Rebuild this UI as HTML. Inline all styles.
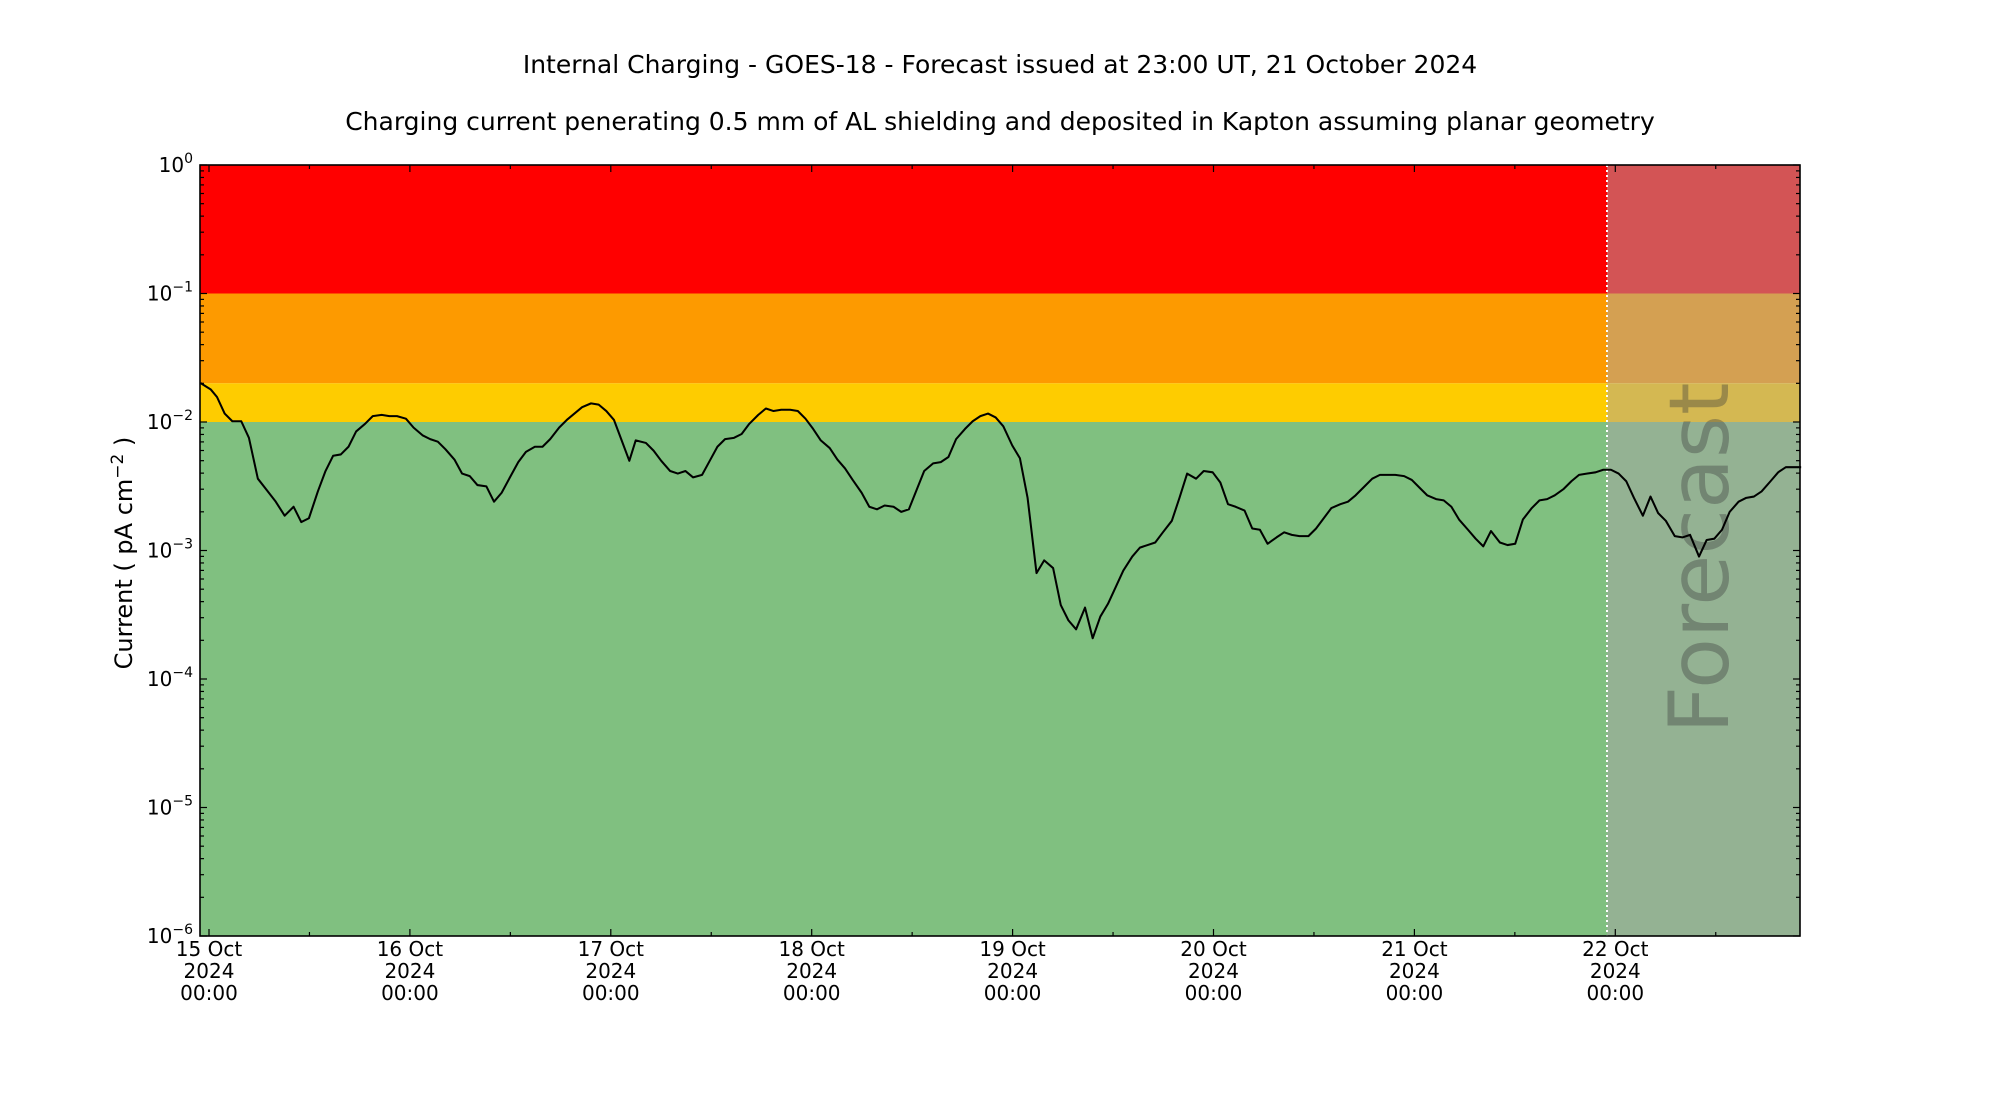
<!DOCTYPE html>
<html><head><meta charset="utf-8"><style>
html,body{margin:0;padding:0;background:#fff;}
svg{display:block;font-family:"DejaVu Sans","Liberation Sans",sans-serif;}
</style></head><body>
<svg width="2000" height="1100" viewBox="0 0 2000 1100" xmlns="http://www.w3.org/2000/svg">
<rect width="2000" height="1100" fill="#fff"/>
<text x="1000" y="73" font-size="25" text-anchor="middle">Internal Charging - GOES-18 - Forecast issued at 23:00 UT, 21 October 2024</text>
<text x="1000" y="130" font-size="25" text-anchor="middle">Charging current penerating 0.5 mm of AL shielding and deposited in Kapton assuming planar geometry</text>
<rect x="200" y="165" width="1407" height="128.5" fill="#ff0000"/>
<rect x="200" y="293.5" width="1407" height="89.8" fill="#fd9a00"/>
<rect x="200" y="383.3" width="1407" height="38.7" fill="#fecc00"/>
<rect x="200" y="422" width="1407" height="514" fill="#80c080"/>
<rect x="1607" y="165" width="193" height="128.5" fill="#d35455"/>
<rect x="1607" y="293.5" width="193" height="89.8" fill="#d4a052"/>
<rect x="1607" y="383.3" width="193" height="38.7" fill="#d4b852"/>
<rect x="1607" y="422" width="193" height="514" fill="#94b293"/>
<line x1="1607" y1="165" x2="1607" y2="936" stroke="#fff" stroke-width="2" stroke-dasharray="2,3"/>
<text transform="translate(1728,558) rotate(-90)" font-size="83" text-anchor="middle" fill="rgba(60,60,60,0.38)">Forecast</text>
<g transform="scale(1.2765)">
<polyline fill="none" stroke="#000" stroke-width="1.6" stroke-linejoin="round" points="157,300 165,305 170,311 176,324 182,330 189,330 195,343 202,375 209,384 216,393 223,404 230,397 236,409 242,406 249,385 255,369 261,357 267,356 273,350 279,338 286,332 292,326 299,325 305,326 311,326 318,328 324,335 331,341 337,344 343,346 349,352 356,360 362,371 368,373 374,380 381,381 387,393 393,386 400,373 406,362 412,354 419,350 425,350 431,344 438,335 444,329 450,324 456,319 463,316 469,317 475,322 481,329 487,345 493,361 498,345 506,347 512,353 518,361 525,369 531,371 537,369 543,374 550,372 556,361 562,350 568,344 575,343 581,340 587,332 594,325 600,320 606,322 612,321 619,321 625,322 631,328 637,336 643,345 650,351 656,360 662,367 668,376 675,386 681,397 687,399 693,396 700,397 706,401 712,399 718,384 724,369 731,363 737,362 743,358 749,344 756,336 762,330 768,326 774,324 780,327 786,334 793,349 799,359 805,390 812,449 818,439 825,445 831,474 837,486 843,493 850,476 856,500 862,483 868,473 874,460 880,447 887,436 893,429 899,427 905,425 911,417 918,408 924,390 930,371 937,375 943,369 950,370 956,378 962,395 968,397 975,400 981,414 987,415 993,426 1000,421 1006,417 1012,419 1018,420 1025,420 1031,414 1037,406 1043,398 1050,395 1056,393 1062,388 1068,382 1075,375 1081,372 1087,372 1093,372 1100,373 1106,376 1112,382 1118,388 1125,391 1131,392 1137,397 1143,407 1150,415 1156,422 1162,428 1168,416 1175,425 1181,427 1187,426 1193,407 1200,398 1206,392 1212,391 1218,388 1225,383 1231,377 1237,372 1243,371 1250,370 1256,368 1262,368 1268,371 1274,377 1280,390 1287,404 1293,389 1299,402 1305,408 1312,420 1318,421 1324,419 1331,436 1337,423 1343,422 1349,415 1355,401 1362,393 1368,390 1374,389 1380,385 1387,377 1393,370 1399,366 1405,366 1411,366"/>
</g>
<rect x="200" y="165" width="1600" height="771" fill="none" stroke="#000" stroke-width="1.6"/>
<g id="ticks" stroke="#000" stroke-width="1.2"></g>
<g id="labels" font-size="20" text-anchor="middle"></g>
<text transform="translate(132,553) rotate(-90)" font-size="24" text-anchor="middle">Current ( pA cm<tspan dy="-9" font-size="17">−2</tspan><tspan dy="9"> )</tspan></text>
<script>
var ns="http://www.w3.org/2000/svg",t=document.getElementById("ticks"),l=document.getElementById("labels");
function ln(a,b,c,d){var e=document.createElementNS(ns,"line");e.setAttribute("x1",a);e.setAttribute("y1",b);e.setAttribute("x2",c);e.setAttribute("y2",d);t.appendChild(e);}
function tx(x,y,s,anc,sz){var e=document.createElementNS(ns,"text");e.setAttribute("x",x);e.setAttribute("y",y);if(anc)e.setAttribute("text-anchor",anc);if(sz)e.setAttribute("font-size",sz);e.textContent=s;l.appendChild(e);return e;}
var D=128.5;
for(var k=0;k<=6;k++){var y=165+k*D;ln(200,y,207,y);ln(1800,y,1793,y);
 var e=tx(193,y+7,"10","end");var s=document.createElementNS(ns,"tspan");s.setAttribute("dy","-9");s.setAttribute("font-size","14");s.textContent=k==0?"0":"−"+k;e.appendChild(s);
 if(k<6)for(var m=2;m<=9;m++){var yy=y+D-Math.log10(m)*D;ln(200,yy,204,yy);ln(1800,yy,1796,yy);}}
var days=["15","16","17","18","19","20","21","22"];
for(var i=0;i<8;i++){var x=209+i*200.9;ln(x,936,x,929);ln(x,165,x,172);
 tx(x,956,days[i]+" Oct");tx(x,978,"2024");tx(x,1000,"00:00");
 var xm=x+100.45;if(xm<1800){ln(xm,936,xm,932);ln(xm,165,xm,169);}}
</script>
</svg>
</body></html>
